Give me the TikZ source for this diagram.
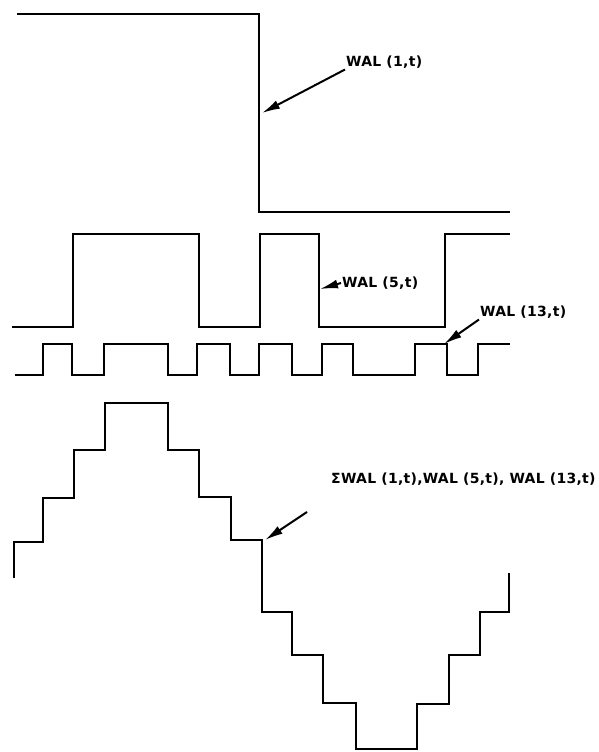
\documentclass[tikz,border=0pt]{standalone}
\usepackage{fontspec}
\newfontfamily\walfont{DejaVu Sans}[LetterSpace=2]
\usetikzlibrary{arrows.meta}

\begin{document}
\begin{tikzpicture}[
  x=1pt,y=-1pt,
  wave/.style={line width=2.8pt, line join=miter},
  lbl/.style={anchor=west, inner sep=1pt, font=\walfont\bfseries\fontsize{14}{16}\selectfont},
  ptr/.style={-{Latex[length=18pt,width=9pt]}, line width=2pt}
]
\useasboundingbox (0,0) rectangle (599,752);

% WAL(1,t)
\draw[wave] plot coordinates {(17,14) (259,14) (259,212) (510,212)};
% WAL(5,t)
\draw[wave] plot coordinates {(12,327) (73,327) (73,234) (199,234) (199,327) (260,327) (260,234) (319,234) (319,327) (445,327) (445,234) (510,234)};
% WAL(13,t)
\draw[wave] plot coordinates {(15,375) (43,375) (43,344) (72,344) (72,375) (104,375) (104,344) (168,344) (168,375) (197,375) (197,344) (230,344) (230,375) (259,375) (259,344) (292,344) (292,375) (322,375) (322,344) (353,344) (353,375) (415,375) (415,344) (447,344) (447,375) (478,375) (478,344) (510,344)};
% sum
\draw[wave] plot coordinates {(14,578) (14,542) (43,542) (43,498) (74,498) (74,450) (105,450) (105,403) (168,403) (168,450) (199,450) (199,497) (231,497) (231,540) (262,540) (262,612) (292,612) (292,655) (323,655) (323,703) (356,703) (356,749) (417,749) (417,704) (449,704) (449,655) (480,655) (480,612) (509,612) (509,573)};

\node[lbl] (walone) at (345,62) {WAL (1,t)};
\node[lbl] (walfive) at (341,283) {WAL (5,t)};
\node[lbl] (walthirteen) at (479,312) {WAL (13,t)};
\node[lbl] (walsum) at (330,479) {ΣWAL (1,t),WAL (5,t), WAL (13,t)};

\coordinate (onetip) at (262,113);
\coordinate (fivetip) at (320,289);
\coordinate (thirteentip) at (444,344);
\coordinate (sumtail) at (307,512);
\coordinate (sumtip) at (265,540);

\draw[ptr] (walone.south west) -- (onetip);
\draw[ptr] (walfive.west) -- (fivetip);
\draw[ptr] (walthirteen.south west) -- (thirteentip);
\draw[ptr] (sumtail) -- (sumtip);
\end{tikzpicture}
\end{document}
